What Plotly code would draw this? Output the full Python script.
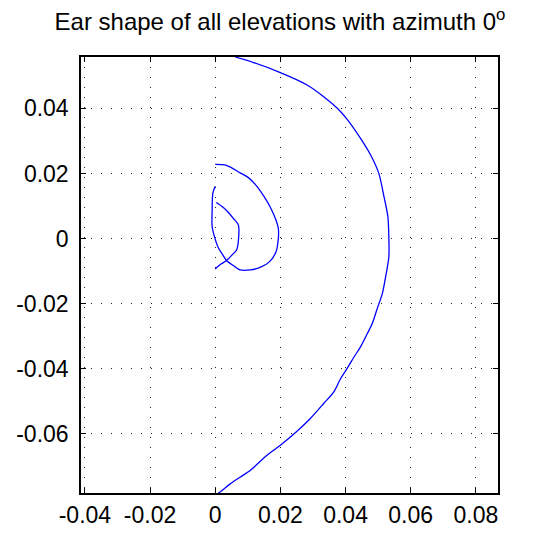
import plotly.graph_objects as go

# ---- data ----
outer_x = [0.00615, 0.01178, 0.0200, 0.0282, 0.0333, 0.0374, 0.0402, 0.0446, 0.0477, 0.0502,
           0.0518, 0.0530, 0.0533, 0.0533, 0.0523, 0.0513, 0.0499, 0.0482, 0.0467, 0.0446,
           0.0426, 0.0405, 0.0385, 0.0364, 0.0333, 0.0292, 0.0251, 0.0200, 0.0159, 0.0108,
           0.0077, 0.0046, 0.0015, 0.0009]
outer_y = [0.0558, 0.0541, 0.0510, 0.0472, 0.0436, 0.0401, 0.0370, 0.0308, 0.0257, 0.0201,
           0.0129, 0.0067, 0.0001, -0.0056, -0.0118, -0.0169, -0.0210, -0.0261, -0.0292, -0.0333,
           -0.0364, -0.0399, -0.0430, -0.0471, -0.0507, -0.0553, -0.0592, -0.0635, -0.0666, -0.0712,
           -0.0733, -0.0754, -0.0779, -0.0782]

loop_x = [0.0, -0.00073, -0.00094, -0.00094, -0.00021, 0.00084, 0.00241, 0.00346, 0.00555, 0.00764,
          0.01079, 0.01393, 0.01654, 0.01864, 0.01937, 0.01937, 0.01864, 0.01707, 0.01497, 0.01236,
          0.01026, 0.00764, 0.00346, 0.0]
loop_y = [0.01606, 0.01399, 0.00881, 0.00363, 0.00052, -0.00259, -0.00518, -0.00674, -0.00829, -0.00964,
          -0.00964, -0.00881, -0.00725, -0.00415, 0.0, 0.00311, 0.0057, 0.00933, 0.01295, 0.01658,
          0.01865, 0.0202, 0.02249, 0.0228]

leaf_x = [0.0, 0.00188, 0.00346, 0.00503, 0.0066, 0.00712, 0.00712, 0.00555, 0.00398, 0.00241, 0.00031]
leaf_y = [-0.00933, -0.00777, -0.00674, -0.00518, -0.00342, -0.00052, 0.00414, 0.00622, 0.00808, 0.00964, 0.01109]

x_ticks = [-0.04, -0.02, 0, 0.02, 0.04, 0.06, 0.08]
x_tick_labels = ["-0.04", "-0.02", "0", "0.02", "0.04", "0.06", "0.08"]
y_ticks = [-0.06, -0.04, -0.02, 0, 0.02, 0.04]
y_tick_labels = ["-0.06", "-0.04", "-0.02", "0", "0.02", "0.04"]

title_text = "Ear shape of all elevations with azimuth 0<sup>o</sup>"

# ---- figure ----
fig = go.Figure()
line_style = dict(color="rgb(0,0,255)", width=1.3, shape="spline", smoothing=0.8)
for xs, ys in [(outer_x, outer_y), (loop_x, loop_y), (leaf_x, leaf_y)]:
    fig.add_trace(go.Scatter(x=xs, y=ys, mode="lines", line=line_style,
                             showlegend=False, hoverinfo="skip"))

FONT = "Liberation Sans, Arial, sans-serif"
axis_common = dict(
    showline=True, linecolor="black", linewidth=1.5, mirror="ticks",
    ticks="inside", ticklen=5, tickcolor="black", tickwidth=1,
    showgrid=True, gridcolor="#222222", gridwidth=1, griddash="1px,9px",
    zeroline=False, automargin=False,
    tickfont=dict(family=FONT, size=23, color="black"),
)

fig.update_layout(
    width=545, height=534,
    margin=dict(l=81, r=47, t=57, b=41),
    paper_bgcolor="white", plot_bgcolor="white",
    title=dict(text=title_text, x=(280 - 81) / 417, xref="paper", xanchor="center",
               y=1 - 22 / 534, yref="container", yanchor="middle",
               font=dict(family=FONT, size=24, color="black")),
    xaxis=dict(range=[-0.0412, 0.0868], tickvals=x_ticks, ticktext=x_tick_labels,
               ticklabelstandoff=1, **axis_common),
    yaxis=dict(range=[-0.0782, 0.0558], tickvals=y_ticks, ticktext=y_tick_labels,
               ticklabelstandoff=6, **axis_common),
)

fig.write_html("out.html")
